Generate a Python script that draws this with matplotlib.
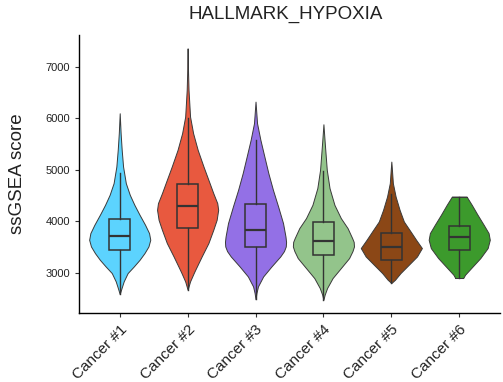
import numpy as np
import matplotlib.pyplot as plt
import matplotlib.transforms as mtransforms

plt.rcParams['font.family'] = ['Liberation Sans', 'DejaVu Sans']

groups = ["Cancer #1", "Cancer #2", "Cancer #3", "Cancer #4", "Cancer #5", "Cancer #6"]
colors = ["#5CD3FE", "#E8593F", "#9370E6", "#93C48B", "#8B4716", "#3C9A2C"]

# violin outlines: score levels and relative density (1 = widest point)
levels = [
    [2586, 2702, 2832, 2994, 3122, 3252, 3382, 3511, 3641, 3771, 3932, 4126, 4320, 4515, 4742,
     5065, 5388, 5712, 6101],
    [2670, 2832, 2994, 3058, 3317, 3577, 3835, 4029, 4223, 4353, 4547, 4742, 5064, 5388, 5713,
     6035, 6553, 6877, 7363],
    [2485, 2606, 2734, 2928, 3122, 3317, 3420, 3511, 3600, 3705, 3965, 4287, 4612, 4936, 5258,
     5583, 5907, 6327],
    [2476, 2573, 2703, 2897, 3091, 3285, 3420, 3511, 3600, 3674, 3868, 4062, 4320, 4645, 5000,
     5550, 5887],
    [2800, 2864, 2994, 3155, 3317, 3480, 3641, 3802, 3996, 4223, 4482, 4742, 5000, 5161],
    [2897, 2961, 3091, 3285, 3480, 3641, 3771, 3932, 4126, 4320, 4482],
]
density = [
    [0.0, 0.06, 0.13, 0.26, 0.46, 0.65, 0.81, 0.94, 1.0, 0.96, 0.83, 0.65, 0.48, 0.33, 0.20,
     0.11, 0.065, 0.03, 0.0],
    [0.0, 0.08, 0.20, 0.25, 0.46, 0.68, 0.84, 0.95, 1.0, 0.97, 0.84, 0.72, 0.52, 0.33, 0.18,
     0.08, 0.03, 0.015, 0.0],
    [0.0, 0.03, 0.08, 0.25, 0.52, 0.81, 0.93, 0.99, 1.0, 0.98, 0.90, 0.74, 0.57, 0.42, 0.29,
     0.16, 0.05, 0.0],
    [0.0, 0.04, 0.12, 0.30, 0.57, 0.84, 0.95, 1.0, 0.99, 0.94, 0.79, 0.57, 0.36, 0.20, 0.11,
     0.04, 0.0],
    [0.0, 0.12, 0.30, 0.57, 0.84, 1.0, 0.81, 0.63, 0.41, 0.27, 0.14, 0.05, 0.02, 0.0],
    [0.13, 0.19, 0.39, 0.69, 0.93, 1.0, 0.96, 0.80, 0.60, 0.41, 0.24],
]

# box summaries
q1 = [3450, 3868, 3499, 3350, 3252, 3433]
med = [3718, 4301, 3835, 3608, 3499, 3686]
q3 = [4046, 4722, 4334, 3996, 3771, 3918]
whislo = [2586, 2670, 2485, 2476, 2800, 2897]
whishi = [4936, 6003, 5586, 4985, 4530, 4482]

fig, ax = plt.subplots(figsize=(5.03, 3.82), dpi=100)
fig.subplots_adjust(left=0.157, right=0.994, bottom=0.181, top=0.908)

pos = np.arange(1, len(groups) + 1)
edge = "#3a3a3a"
for i, (y, d) in enumerate(zip(levels, density)):
    half = 0.45 * np.array(d)
    ax.fill_betweenx(y, pos[i] - half, pos[i] + half, facecolor=colors[i],
                     edgecolor=edge, linewidth=0.7, zorder=2)
    # close the flat ends
    ax.plot([pos[i] - half[0], pos[i] + half[0]], [y[0], y[0]], color=edge, lw=0.7, zorder=2)
    ax.plot([pos[i] - half[-1], pos[i] + half[-1]], [y[-1], y[-1]], color=edge, lw=0.7, zorder=2)

stats = [dict(q1=q1[i], med=med[i], q3=q3[i], whislo=whislo[i], whishi=whishi[i], fliers=[])
         for i in range(len(groups))]
ax.bxp(stats, positions=pos, widths=0.31, showcaps=False, patch_artist=True,
       boxprops=dict(facecolor="none", edgecolor="#333333", linewidth=1.1),
       medianprops=dict(color="#333333", linewidth=1.6),
       whiskerprops=dict(color="#333333", linewidth=1.0), zorder=3)

ax.set_xlim(0.4, 6.6)
ax.set_ylim(2220, 7620)
ax.set_yticks([3000, 4000, 5000, 6000, 7000])
ax.set_xticks(pos)
ax.set_xticklabels(groups, rotation=45, ha="right", rotation_mode="anchor", fontsize=11)
shift = mtransforms.ScaledTranslation(6 / 100, 0, fig.dpi_scale_trans)
for lab in ax.get_xticklabels():
    lab.set_transform(lab.get_transform() + shift)
ax.tick_params(axis="y", labelsize=8, length=3, color="#333333", labelcolor="#222222")
ax.tick_params(axis="x", length=3, color="#333333", labelcolor="#222222")

for s in ["top", "right"]:
    ax.spines[s].set_visible(False)
for s in ["left", "bottom"]:
    ax.spines[s].set_linewidth(1.0)

ax.set_ylabel("ssGSEA score", fontsize=13.5, labelpad=14, color="#222222")
ax.set_title("HALLMARK_HYPOXIA", fontsize=13.5, pad=12, color="#222222", x=0.49)

fig.savefig("out.png", dpi=100)
